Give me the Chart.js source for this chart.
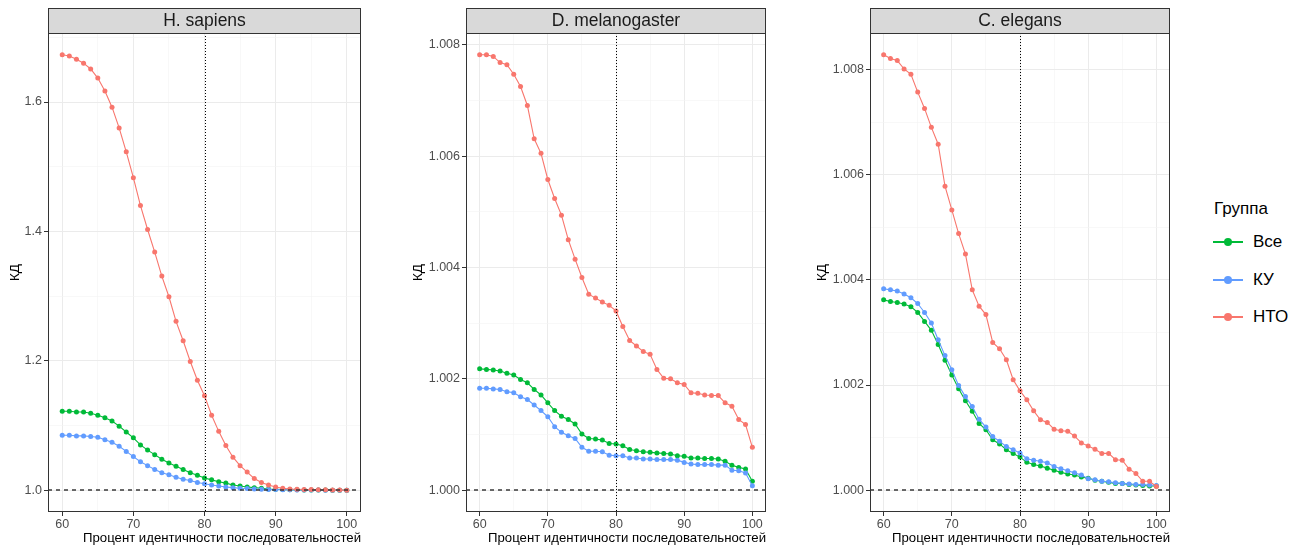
<!DOCTYPE html>
<html>
<head>
<meta charset="utf-8">
<script src="https://cdn.jsdelivr.net/npm/chart.js@4.4.0/dist/chart.umd.min.js"></script>
<style>
  body { margin: 0; background: #fff; width: 1311px; height: 549px; position: relative; overflow: hidden;
         font-family: "Liberation Sans", Arial, sans-serif; }
  canvas { position: absolute; top: 0; }
  #legend { position: absolute; left: 0; top: 0; }
  .lg-title { position: absolute; left: 1214px; top: 199px; font-size: 17px; color: #000; }
  .lg-item { position: absolute; left: 1213px; height: 20px; font-size: 17px; color: #000; }
  .lg-key { position: absolute; left: 0; top: 0; width: 30px; height: 20px; }
  .lg-line { position: absolute; left: 0; top: 9px; width: 30px; height: 2px; }
  .lg-dot { position: absolute; left: 11px; top: 6px; width: 8px; height: 8px; border-radius: 50%; }
  .lg-text { position: absolute; left: 40px; top: 0; line-height: 20px; white-space: nowrap; }
</style>
</head>
<body>
<canvas id="hs" width="370" height="549" style="left:0px"></canvas>
<canvas id="dm" width="372" height="549" style="left:403px"></canvas>
<canvas id="ce" width="372" height="549" style="left:807px"></canvas>
<div id="legend"></div>
<script>
// x: percent identity
const identity = [60, 61, 62, 63, 64, 65, 66, 67, 68, 69, 70, 71, 72, 73, 74, 75, 76, 77, 78, 79, 80,
                  81, 82, 83, 84, 85, 86, 87, 88, 89, 90, 91, 92, 93, 94, 95, 96, 97, 98, 99, 100];

// H. sapiens
const hsAll = [1.122, 1.122, 1.121, 1.121, 1.119, 1.116, 1.112, 1.107, 1.099, 1.090, 1.081, 1.070, 1.062, 1.055,
  1.048, 1.042, 1.037, 1.032, 1.027, 1.023, 1.019, 1.016, 1.013, 1.011, 1.008, 1.0065, 1.005, 1.004, 1.003,
  1.002, 1.0015, 1.001, 1.0008, 1.0006, 1.0005, 1.0004, 1.0003, 1.0002, 1.0001, 1.0001, 1.0];
const hsKU = [1.085, 1.085, 1.084, 1.084, 1.083, 1.082, 1.078, 1.074, 1.068, 1.060, 1.052, 1.044, 1.038, 1.032,
  1.027, 1.024, 1.020, 1.017, 1.015, 1.012, 1.010, 1.008, 1.0065, 1.005, 1.004, 1.003, 1.0027, 1.002, 1.0016,
  1.0012, 1.001, 1.0008, 1.0006, 1.0005, 1.0004, 1.0003, 1.0002, 1.0001, 1.0001, 1.0, 1.0];
const hsNTO = [1.673, 1.671, 1.666, 1.660, 1.651, 1.637, 1.617, 1.592, 1.560, 1.523, 1.483, 1.440, 1.403, 1.368,
  1.331, 1.299, 1.261, 1.231, 1.199, 1.170, 1.146, 1.116, 1.091, 1.069, 1.051, 1.038, 1.028, 1.018, 1.012,
  1.008, 1.005, 1.003, 1.002, 1.0016, 1.0012, 1.001, 1.0008, 1.0006, 1.0004, 1.0002, 1.0001];

// D. melanogaster
const dmAll = [1.00218, 1.00217, 1.00216, 1.00214, 1.00210, 1.00207, 1.00199, 1.00193, 1.00181, 1.00171, 1.00157,
  1.00143, 1.00133, 1.00127, 1.00119, 1.00101, 1.00093, 1.00092, 1.00090, 1.00084, 1.00083, 1.00080, 1.00073,
  1.00071, 1.00069, 1.00068, 1.00067, 1.00066, 1.00065, 1.00062, 1.00061, 1.00058, 1.00058, 1.00057, 1.00057,
  1.00056, 1.00052, 1.00045, 1.00041, 1.00038, 1.00016];
const dmKU = [1.00183, 1.00183, 1.00182, 1.00181, 1.00177, 1.00175, 1.00168, 1.00163, 1.00153, 1.00143, 1.00132,
  1.00114, 1.00104, 1.00098, 1.00093, 1.00077, 1.00070, 1.00070, 1.00069, 1.00063, 1.00062, 1.00062, 1.00058,
  1.00058, 1.00056, 1.00056, 1.00055, 1.00055, 1.00055, 1.00054, 1.00050, 1.00047, 1.00046, 1.00046, 1.00046,
  1.00045, 1.00045, 1.00036, 1.00035, 1.00031, 1.00008];
const dmNTO = [1.00782, 1.00782, 1.00779, 1.00768, 1.00764, 1.00747, 1.00725, 1.00691, 1.00631, 1.00605, 1.00558,
  1.00524, 1.00494, 1.00450, 1.00415, 1.00382, 1.00352, 1.00345, 1.00338, 1.00332, 1.00322, 1.00294, 1.00269,
  1.00259, 1.00249, 1.00244, 1.00217, 1.00201, 1.00200, 1.00193, 1.00190, 1.00175, 1.00174, 1.00171, 1.00170,
  1.00170, 1.00157, 1.00151, 1.00127, 1.00118, 1.00077];

// C. elegans
const ceAll = [1.00362, 1.00359, 1.00357, 1.00354, 1.00349, 1.00338, 1.00321, 1.00304, 1.00277, 1.00247, 1.00219,
  1.00193, 1.00170, 1.00150, 1.00127, 1.00115, 1.00096, 1.00088, 1.00077, 1.00070, 1.00063, 1.00053, 1.00049,
  1.00046, 1.00042, 1.00038, 1.00034, 1.00031, 1.00029, 1.00025, 1.00023, 1.00019, 1.00017, 1.00015, 1.00013,
  1.00013, 1.00011, 1.00010, 1.00009, 1.00008, 1.00008];
const ceKU = [1.00383, 1.00381, 1.00379, 1.00373, 1.00366, 1.00355, 1.00338, 1.00318, 1.00286, 1.00256, 1.00229,
  1.00199, 1.00178, 1.00159, 1.00135, 1.00120, 1.00102, 1.00093, 1.00083, 1.00077, 1.00071, 1.00060, 1.00057,
  1.00055, 1.00052, 1.00045, 1.00041, 1.00037, 1.00033, 1.00029, 1.00022, 1.00020, 1.00017, 1.00016, 1.00014,
  1.00013, 1.00012, 1.00011, 1.00011, 1.00010, 1.00009];
const ceNTO = [1.00828, 1.00821, 1.00817, 1.00801, 1.00791, 1.00757, 1.00726, 1.00690, 1.00658, 1.00578, 1.00533,
  1.00488, 1.00449, 1.00381, 1.00350, 1.00334, 1.00281, 1.00269, 1.00248, 1.00210, 1.00189, 1.00172, 1.00151,
  1.00134, 1.00129, 1.00116, 1.00113, 1.00112, 1.00103, 1.00090, 1.00084, 1.00078, 1.00070, 1.00070, 1.00058,
  1.00057, 1.00040, 1.00032, 1.00017, 1.00017, 1.00007];

const groups = ['Все', 'КУ', 'НТО'];
const groupColors = ['#00BA38', '#619CFF', '#F8766D'];
const xTitle = 'Процент идентичности последовательностей';
const yTitle = 'КД';
const cutoff = 80;     // dotted vertical line
const baseline = 1.0;  // dashed horizontal line

const FONT = '"Liberation Sans", Arial, sans-serif';

function near(v, step) {
  const r = v / step;
  return Math.abs(r - Math.round(r)) < 1e-6;
}

// panel border, strip header and reference lines
const facetPlugin = {
  id: 'facet',
  afterDatasetsDraw(chart) {
    const {ctx, chartArea: a, scales: {x, y}} = chart;
    ctx.save();
    ctx.beginPath();
    ctx.rect(a.left, a.top, a.width, a.height);
    ctx.clip();
    const px = Math.round(x.getPixelForValue(cutoff)) + 0.5;
    ctx.strokeStyle = '#000';
    ctx.lineWidth = 1;
    ctx.setLineDash([1, 2]);
    ctx.beginPath(); ctx.moveTo(px, a.top); ctx.lineTo(px, a.bottom); ctx.stroke();
    const py = Math.round(y.getPixelForValue(baseline));
    ctx.strokeStyle = 'rgba(50,50,50,0.9)';
    ctx.lineWidth = 1.6;
    ctx.setLineDash([4, 4]);
    ctx.beginPath(); ctx.moveTo(a.left, py); ctx.lineTo(a.right, py); ctx.stroke();
    ctx.restore();
  },
  afterDraw(chart, args, opts) {
    const {ctx, chartArea: a} = chart;
    ctx.save();
    ctx.strokeStyle = '#333';
    ctx.lineWidth = 1;
    ctx.strokeRect(a.left + 0.5, a.top + 0.5, a.width - 1, a.height - 1);
    // strip
    ctx.fillStyle = '#d9d9d9';
    ctx.fillRect(a.left, 8, a.width, a.top - 8);
    ctx.strokeRect(a.left + 0.5, 8.5, a.width - 1, a.top - 8);
    ctx.fillStyle = '#1a1a1a';
    ctx.font = '17.5px ' + FONT;
    ctx.textAlign = 'center';
    ctx.textBaseline = 'middle';
    ctx.fillText(opts.title, (a.left + a.right) / 2, (8 + a.top) / 2 + 1);
    ctx.restore();
  }
};

function makeChart(id, title, series, yStep, digits, yWidth) {
  const all = series.flat();
  const lo = Math.min(baseline, ...all), hi = Math.max(...all);
  const pad = (hi - lo) * 0.05;
  const majorY = yStep * 2;
  const ds = [2, 1, 0].map((g, k) => ({
    label: groups[g],
    data: identity.map((v, i) => ({x: v, y: series[g][i]})),
    borderColor: groupColors[g],
    backgroundColor: groupColors[g],
    borderWidth: 1.1,
    pointRadius: 2.5,
    pointBorderWidth: 0,
    tension: 0,
    order: k
  }));
  return new Chart(document.getElementById(id), {
    type: 'line',
    data: {datasets: ds},
    plugins: [facetPlugin],
    options: {
      responsive: false,
      animation: false,
      devicePixelRatio: 1,
      layout: {padding: {top: 33, right: 9, left: 0, bottom: 0}},
      plugins: {legend: {display: false}, tooltip: {enabled: false}, facet: {title: title}},
      scales: {
        x: {
          type: 'linear', min: 58, max: 102,
          ticks: {
            stepSize: 5, includeBounds: false, autoSkip: false, maxRotation: 0,
            callback: v => near(v, 10) ? String(v) : '',
            color: '#4d4d4d', font: {family: FONT, size: 12.5}, padding: 1
          },
          grid: {
            color: c => near(c.tick.value, 10) ? '#ebebeb' : '#f3f3f3',
            lineWidth: c => near(c.tick.value, 10) ? 1 : 0.6,
            tickColor: c => near(c.tick.value, 10) ? '#333' : 'rgba(0,0,0,0)',
            tickLength: 4
          },
          border: {display: false},
          title: {display: true, text: xTitle, align: 'end', color: '#000',
                  font: {family: FONT, size: 13.2}, padding: {top: 0, bottom: 3}},
          afterFit: s => { s.height = 37; }
        },
        y: {
          min: lo - pad, max: hi + pad,
          ticks: {
            stepSize: yStep, includeBounds: false, autoSkip: false,
            callback: v => near(v, majorY) ? v.toFixed(digits) : '',
            color: '#4d4d4d', font: {family: FONT, size: 12.5}, padding: 2
          },
          grid: {
            color: c => near(c.tick.value, majorY) ? '#ebebeb' : '#f3f3f3',
            lineWidth: c => near(c.tick.value, majorY) ? 1 : 0.6,
            tickColor: c => near(c.tick.value, majorY) ? '#333' : 'rgba(0,0,0,0)',
            tickLength: 4
          },
          border: {display: false},
          title: {display: true, text: yTitle, color: '#000',
                  font: {family: FONT, size: 13.5}, padding: {top: 7, bottom: 0}},
          afterFit: s => { s.width = yWidth; }
        }
      }
    }
  });
}

makeChart('hs', 'H. sapiens', [hsAll, hsKU, hsNTO], 0.1, 1, 48);
makeChart('dm', 'D. melanogaster', [dmAll, dmKU, dmNTO], 0.001, 3, 63);
makeChart('ce', 'C. elegans', [ceAll, ceKU, ceNTO], 0.001, 3, 63);

// legend
const legend = document.getElementById('legend');
const lt = document.createElement('div');
lt.className = 'lg-title';
lt.textContent = 'Группа';
legend.appendChild(lt);
groups.forEach((g, i) => {
  const item = document.createElement('div');
  item.className = 'lg-item';
  item.style.top = (232 + i * 37.5) + 'px';
  item.innerHTML = '<div class="lg-key"><div class="lg-line" style="background:' + groupColors[i] +
    '"></div><div class="lg-dot" style="background:' + groupColors[i] + '"></div></div>' +
    '<div class="lg-text">' + g + '</div>';
  legend.appendChild(item);
});
</script>
</body>
</html>
